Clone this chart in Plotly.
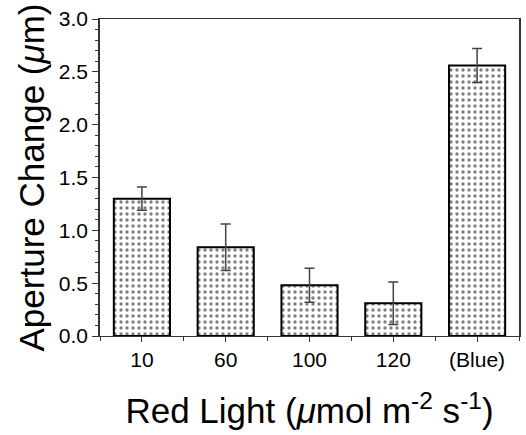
import plotly.graph_objects as go

categories = ["10", "60", "100", "120", "(Blue)"]
values = [1.30, 0.84, 0.48, 0.31, 2.56]
errors = [0.11, 0.22, 0.16, 0.20, 0.16]
y_ticks = [0.0, 0.5, 1.0, 1.5, 2.0, 2.5, 3.0]

xpos = list(range(len(categories)))

fig = go.Figure()
fig.add_trace(go.Bar(
    x=xpos, y=values, width=0.67,
    marker=dict(color="white", line=dict(color="black", width=2),
                pattern=dict(shape=".", fgcolor="black", bgcolor="white", size=6, solidity=0.25)),
    error_y=dict(type="data", array=errors, visible=True, color="#444", thickness=1.5, width=5),
    showlegend=False,
))

font = "Liberation Sans, Arial, Helvetica, sans-serif"
fig.update_layout(
    width=526, height=435,
    margin=dict(l=100, r=5, t=19, b=99),
    paper_bgcolor="white", plot_bgcolor="white",
    font=dict(family=font, color="black", size=21),
    xaxis=dict(
        range=[-0.5, 4.5], tickmode="array", tickvals=xpos, ticktext=categories,
        ticks="outside", ticklen=5, tickcolor="#333", showgrid=False, zeroline=False,
        showline=True, linecolor="#333", linewidth=1, mirror=True,
        minor=dict(tickmode="linear", tick0=0.5, dtick=1, ticks="outside", ticklen=4, tickcolor="#333"),
        tickfont=dict(size=21),
        title=dict(text="Red Light (<i>μ</i>mol m<sup>-2</sup> s<sup>-1</sup>)", font=dict(size=35), standoff=28),
    ),
    yaxis=dict(
        range=[0, 3.0], tickmode="array", tickvals=y_ticks, ticktext=[f"{v:.1f}" for v in y_ticks],
        ticks="outside", ticklen=6, tickcolor="#333", showgrid=False, zeroline=False,
        showline=True, linecolor="#333", linewidth=1.5, mirror=True,
        minor=dict(tickmode="linear", tick0=0, dtick=0.1, ticks="outside", ticklen=3, tickcolor="#333"),
        tickfont=dict(size=21),
        title=dict(text="Aperture Change (<i>μ</i>m)", font=dict(size=35), standoff=4),
    ),
)

fig.write_html("out.html")
